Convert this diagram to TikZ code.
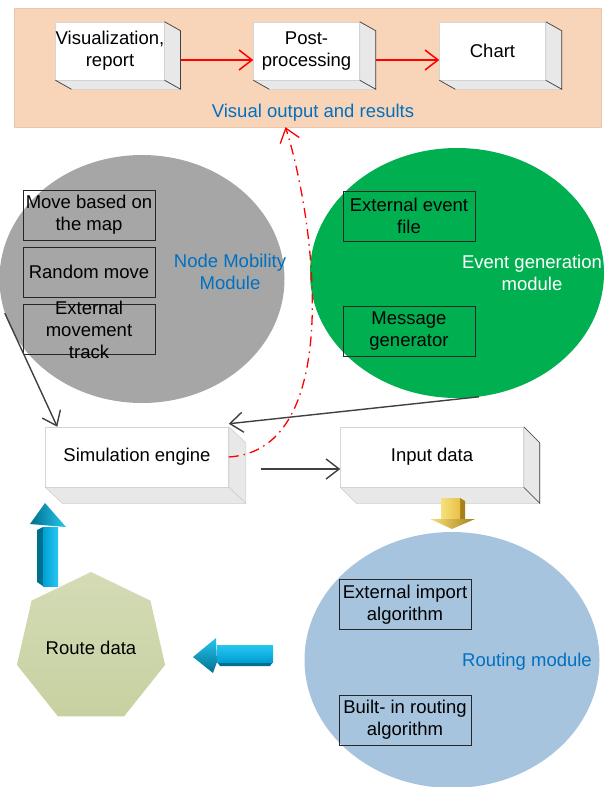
\documentclass[tikz,border=0pt]{standalone}
\usepackage{fontspec}
\setmainfont{Liberation Sans}
\usetikzlibrary{arrows.meta, shapes.geometric}
\definecolor{panelpeach}{RGB}{248,213,184}
\definecolor{paneledge}{RGB}{236,198,168}
\definecolor{mobgray}{RGB}{166,166,166}
\definecolor{eventgreen}{RGB}{0,176,80}
\definecolor{routeblue}{RGB}{167,196,222}
\definecolor{labelblue}{RGB}{0,112,192}
\definecolor{olivetop}{RGB}{212,219,182}
\definecolor{olivebot}{RGB}{199,209,160}
\definecolor{cyanlight}{RGB}{40,198,240}
\definecolor{cyanmid}{RGB}{0,160,212}
\definecolor{cyandark}{RGB}{0,112,142}
\definecolor{goldlight}{RGB}{248,224,124}
\definecolor{goldmid}{RGB}{232,192,72}
\definecolor{golddark}{RGB}{168,128,24}

% side and bottom faces of a box node: name, depth x, depth y
\newcommand{\cubefaces}[3]{%
  \filldraw[cubeside] (#1.north east) -- ++(#2,#3) -- ([shift={(#2,#3)}]#1.south east)
    -- (#1.south east) -- cycle;
  \filldraw[cubeside] (#1.south west) -- (#1.south east) -- ([shift={(#2,#3)}]#1.south east)
    -- ([shift={(#2,#3)}]#1.south west) -- cycle;
}
\newcommand{\cubeedges}[3]{%
  \draw[cubeedge] (#1.north east) -- ++(#2,#3) -- ([shift={(#2,#3)}]#1.south east) -- (#1.south east);
  \draw[cubeedge] (#1.south west) -- ([shift={(#2,#3)}]#1.south west);
}

\begin{document}
\begin{tikzpicture}[x=1pt, y=-1pt,
  txt/.style={font=\fontsize{18.5}{22}\selectfont, align=center},
  cube/.style={txt, draw=black!16, fill=white, line width=0.5pt,
               minimum width=106pt, minimum height=58pt, inner sep=0pt},
  cubeside/.style={fill=black!9, draw=black!20, line width=0.5pt},
  cubeedge/.style={black!75, line width=0.7pt},
  modbox/.style={txt, draw=black!85, line width=0.8pt,
                 minimum width=132pt, minimum height=50pt, inner sep=0pt},
  module/.style={ellipse, inner sep=0pt},
  modlabel/.style={txt, labelblue},
  redarr/.style={-{Straight Barb[length=13pt,width=20pt]}, red, line width=1.5pt},
  grayarr/.style={-{Straight Barb[length=13pt,width=20pt]}, black!75, line width=1.4pt},
]
  \useasboundingbox (0,0) rectangle (613,787);

  % Visual output panel
  \node[fill=panelpeach, draw=paneledge, minimum width=587pt, minimum height=119pt,
        inner sep=0pt] (visual) at (307.5,67.5) {};
  \node[cube] (vis) at (110,51) {Visualization,\\report};
  \node[cube] (post) at (306.5,51) {Post-\\processing};
  \node[cube] (chart) at (492.5,51) {Chart};
  \foreach \b in {vis, post, chart} {
    \cubefaces{\b}{16}{9}
    \cubeedges{\b}{16}{9}
  }
  \draw[redarr] ([shift={(16,9)}]vis.east) -- ([yshift=-9pt]post.west);
  \draw[redarr] ([shift={(16,9)}]post.east) -- ([yshift=-9pt]chart.west);
  \node[modlabel] (visualtext) at (313,113) {Visual output and results};

  % Node mobility module
  \node[module, fill=mobgray, minimum width=285pt, minimum height=248pt] (mobility) at (142,279) {};
  \node[modbox] (map) at (89,215) {Move based on\\the map};
  \node[modbox] (random) at (89,272) {Random move};
  \node[modbox] (track) at (89,329.5) {};
  \node[txt] (tracktext) at (track) {External\\movement\\track};
  \node[modlabel] (mobilitytext) at (230,272) {Node Mobility\\Module};

  % Event generation module
  \node[module, fill=eventgreen, minimum width=294pt, minimum height=250pt] (event) at (457,273) {};
  \node[modbox] (file) at (409,216) {External event\\file};
  \node[modbox] (msggen) at (409,331) {Message\\generator};
  \node[txt, white] (eventtext) at (532,273) {Event generation\\module};

  % Engine and input
  \node[cube, minimum width=183pt, minimum height=60pt] (sim) at (137,457) {Simulation engine};
  \node[cube, minimum width=183pt, minimum height=60pt] (input) at (432,457) {Input data};
  \cubefaces{sim}{17}{16}
  \cubefaces{input}{16}{16}
  \draw[cubeedge] (input.north east) -- ++(16,16) -- ([shift={(16,16)}]input.south east)
    -- (input.south east);
  \draw[grayarr] ([shift={(32,12)}]sim.east) -- ([yshift=-12pt]input.west);
  \draw[grayarr] (mobility.194) -- ([xshift=12pt]sim.north west);
  \draw[grayarr] (event.-80) -- ([yshift=3pt]sim.north east);

  % Routing module
  \node[module, fill=routeblue, minimum width=295pt, minimum height=256pt] (routing) at (452,660) {};
  \node[modbox] (import) at (405,604.5) {External import\\algorithm};
  \node[modbox] (builtin) at (405,720) {Built- in routing\\algorithm};
  \node[modlabel] (routingtext) at (527,662) {Routing module};

  % Route data
  \node[txt, regular polygon, regular polygon sides=7, minimum size=152pt, inner sep=0pt,
        top color=olivetop, bottom color=olivebot] (routedata) at (91,648) {Route data};

  % Block arrows
  \fill[golddark] (460,498) -- (465,501) -- (465,519) -- (460,519) -- cycle;
  \shade[left color=goldlight, right color=goldmid] (441,498) -- (460,498) -- (460,519) -- (441,519) -- cycle;
  \shade[left color=goldlight, right color=golddark] (430,519) -- (475,519) -- (452,529) -- cycle;

  \fill[cyandark] (37,530) -- (43,527) -- (43,586) -- (37,582) -- cycle;
  \shade[left color=cyanmid, right color=cyanlight] (43,527) -- (58,527) -- (58,586) -- (43,586) -- cycle;
  \shade[left color=cyandark, right color=cyanlight] (30,524) -- (45,503) -- (66,527) -- cycle;

  \fill[cyandark] (217,662) -- (273,662) -- (270,666) -- (220,666) -- cycle;
  \shade[top color=cyanlight, bottom color=cyanmid] (217,645) -- (273,645) -- (273,662) -- (217,662) -- cycle;
  \shade[top color=cyanlight, bottom color=cyandark] (216,638) -- (193,657) -- (213,673) -- (217,662) -- cycle;

  % Feedback to output
  \draw[redarr, line width=1.3pt, dash pattern=on 10pt off 5pt on 1.5pt off 5pt]
    (sim.east) .. controls (345,450) and (315,220) .. ([xshift=-22pt]visual.south);
\end{tikzpicture}
\end{document}
